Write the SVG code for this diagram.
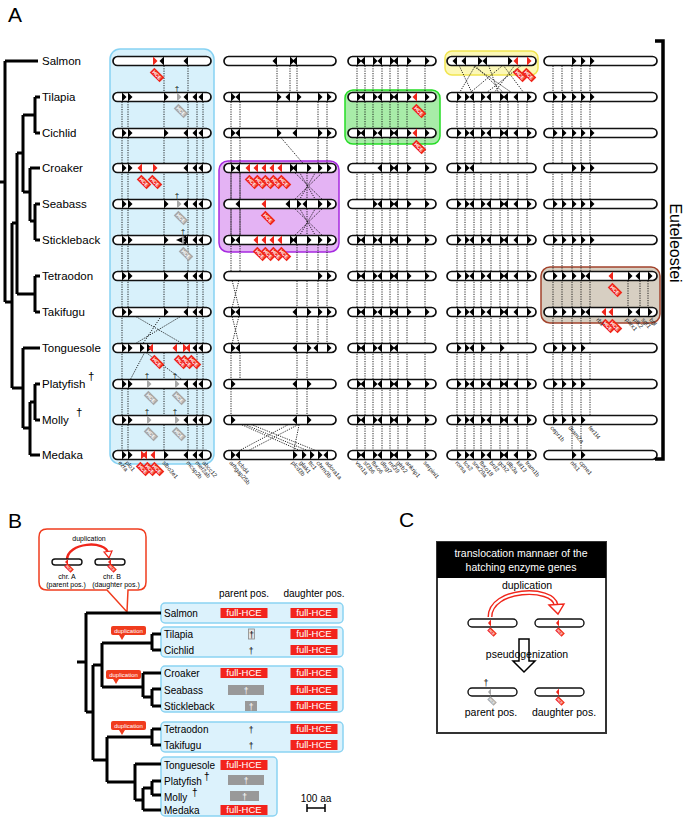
<svg xmlns="http://www.w3.org/2000/svg" width="685" height="819" viewBox="0 0 685 819">
<style>
.bar{fill:#fff;stroke:#111;stroke-width:1.7}
.sbar{fill:#fff;stroke:#111;stroke-width:1.4}
.dot{fill:none;stroke:#111;stroke-width:0.9;stroke-dasharray:1.2 1.2}
.tr{fill:none;stroke:#000;stroke-width:3}
.f{font-family:"Liberation Sans",Arial,sans-serif}
.sp{font-family:"Liberation Sans",Arial,sans-serif;font-size:11.5px;fill:#000}
.spb{font-family:"Liberation Sans",Arial,sans-serif;font-size:10px;fill:#000}
.gl{font-family:"Liberation Sans",Arial,sans-serif;font-size:6px;fill:#222}
.big{font-family:"Liberation Sans",Arial,sans-serif;font-size:21px;fill:#000}
.dg{font-family:"Liberation Sans",Arial,sans-serif;font-size:8px;text-anchor:middle;fill:#000}
.rd{fill:#f0261b}
.gy{fill:#a8a8a8}
.lbl{font-family:"Liberation Sans",Arial,sans-serif;font-size:10.5px;fill:#000;text-anchor:middle}
</style>
<defs>
<path id="r" d="M0,-4.5L4.5,0L0,4.5Z"/>
<path id="l" d="M0,-4.5L-4.5,0L0,4.5Z"/>
<path id="rs" d="M0,-3.5L3,0L0,3.5Z"/>
<path id="ls" d="M0,-3.5L-3,0L0,3.5Z"/>
<g id="tg"><g transform="translate(4,14) rotate(45)"><rect x="-7" y="-3.3" width="14" height="6.6"/><text x="0" y="1.8" font-size="5" fill="#fff" text-anchor="middle" font-family="Liberation Sans, Arial, sans-serif" font-weight="bold">HCE</text></g></g>
<g id="tgs"><g transform="translate(3,9) rotate(45)"><rect x="-4.5" y="-2.3" width="9" height="4.6"/><text x="0" y="1.2" font-size="3.3" fill="#fff" text-anchor="middle" font-family="Liberation Sans, Arial, sans-serif" font-weight="bold">HCE</text></g></g>
<rect id="b1" class="bar" x="113" y="-4.5" width="98" height="9" rx="4.5"/>
<rect id="b2" class="bar" x="224" y="-4.5" width="112" height="9" rx="4.5"/>
<rect id="b3" class="bar" x="348" y="-4.5" width="88" height="9" rx="4.5"/>
<rect id="b4" class="bar" x="447" y="-4.5" width="89" height="9" rx="4.5"/>
<rect id="b5" class="bar" x="544" y="-4.5" width="113" height="9" rx="4.5"/>
<g id="s1"><use href="#r" x="122"/><use href="#r" x="128"/><use href="#r" x="164"/><use href="#l" x="188"/><use href="#l" x="197"/><use href="#l" x="203"/></g>
<g id="p3"><use href="#r" x="357"/><use href="#l" x="365"/><use href="#r" x="373"/><use href="#l" x="382"/><use href="#r" x="390"/><use href="#l" x="398"/><use href="#r" x="407"/><use href="#r" x="425"/></g>
<g id="q4"><use href="#r" x="457"/><use href="#r" x="465"/><use href="#l" x="474"/><use href="#r" x="481"/><use href="#l" x="491"/><use href="#r" x="500"/><use href="#l" x="508"/><use href="#l" x="518"/><use href="#r" x="527"/></g>
<g id="f5"><use href="#r" x="553"/><use href="#r" x="562"/><use href="#r" x="572"/><use href="#r" x="581"/><use href="#r" x="590"/></g>
<g id="fh"><rect x="-23.5" y="-5" width="47" height="10" fill="#f2231c"/><text x="0" y="3.4" font-size="9.5" fill="#fff" text-anchor="middle" font-family="Liberation Sans, Arial, sans-serif">full-HCE</text></g>
</defs>
<rect width="685" height="819" fill="#fff"/>

<!-- ============ PANEL A ============ -->
<text class="big" x="8" y="22">A</text>

<g id="treeA">
<path class="tr" d="M0,182H5M5,61V302M5,61H38M5,302H12M12,223V388M12,223H17M17,153V294M17,153H23M23,115V192M23,115H35M35,97V133M35,97H40M35,133H40M23,192H30M30,168V221M30,168H40M30,221H35M35,204V240M35,204H40M35,240H40M17,294H35M35,276V312M35,276H40M35,312H40M12,388H23M23,348V428M23,348H40M23,428H30M30,402V455M30,455H40M30,402H35M35,384V420M35,384H40M35,420H40"/>
</g>
<g id="speciesA">
<text class="sp" x="42" y="65">Salmon</text>
<text class="sp" x="42" y="101">Tilapia</text>
<text class="sp" x="42" y="137">Cichlid</text>
<text class="sp" x="42" y="172">Croaker</text>
<text class="sp" x="42" y="208">Seabass</text>
<text class="sp" x="42" y="244">Stickleback</text>
<text class="sp" x="42" y="280">Tetraodon</text>
<text class="sp" x="42" y="316">Takifugu</text>
<text class="sp" x="42" y="352">Tonguesole</text>
<text class="sp" x="42" y="388">Platyfish</text>
<text class="sp" x="88" y="380" font-size="10">†</text>
<text class="sp" x="42" y="424">Molly</text>
<text class="sp" x="76" y="416" font-size="10">†</text>
<text class="sp" x="42" y="459">Medaka</text>
</g>

<g id="highlights">
<rect x="110" y="49" width="104" height="415" rx="10" fill="#d8f1fb" stroke="#86d2f3" stroke-width="1.5"/>
<rect x="219" y="161" width="120" height="91" rx="9" fill="#e4b3f4" stroke="#a62ae0" stroke-width="1.5"/>
<rect x="345" y="90" width="95" height="54" rx="8" fill="#a8eca8" stroke="#25dd25" stroke-width="1.5"/>
<rect x="445" y="51" width="93" height="24" rx="7" fill="#fcf8b7" stroke="#f1e550" stroke-width="1.5"/>
<rect x="541" y="267" width="119" height="56" rx="9" fill="#d7cfc2" stroke="#a2432c" stroke-width="1.5"/>
</g>

<g id="connectors">
<path class="dot" d="M164,61V312M188,61V312M122,97V455M128,97V312M128,384V455M197,97V455M203,97V455M164,348V455M188,384V455M128,312L190,348M188,312L128,348M164,312L140,348M140,348L188,384M147,348L128,384"/>
<path class="dot" d="M277,61V133M290,61V97M297,61V133M231,97V276M240,97V276M318,97V168M327,97V168M277,133L307,168M290,168L327,204M327,168L290,204M297,168L318,204M318,168L297,204M307,168V204M290,204L327,240M327,204L290,240M297,204L318,240M318,204L297,240M307,204V240M231,168V240M240,168V240M297,240V420M307,240V420M318,240V348M327,240V348M231,276L240,312M240,276L231,312M231,312L240,348M240,312L231,348M231,348V420M240,348V384M231,420L310,455M240,420L327,455M297,420L231,455M307,420L240,455M300,420L293,455M234,420L318,455"/>
<path class="dot" d="M357,61V455M365,61V455M373,61V455M382,61V455M390,61V455M398,61V455M407,61V455M425,61V455"/>
<path class="dot" d="M457,97V455M465,97V455M474,97V455M481,97V455M491,97V455M500,97V455M508,97V455M518,97V455M527,97V455M457,61L474,97M466,61L518,97M478,61L457,97M487,61L500,97M508,61L465,97M518,61L491,97M527,61L481,97M500,61L527,97M470,61L508,97"/>
<path class="dot" d="M553,61V420M562,61V420M572,61V455M581,61V455M590,61V420M628,276V312M640,276V312M648,276V312"/>
</g>

<g id="bars">
<use href="#b1" y="61"/><use href="#b1" y="97"/><use href="#b1" y="133"/><use href="#b1" y="168"/><use href="#b1" y="204"/><use href="#b1" y="240"/><use href="#b1" y="276"/><use href="#b1" y="312"/><use href="#b1" y="348"/><use href="#b1" y="384"/><use href="#b1" y="420"/><use href="#b1" y="455"/>
<use href="#b2" y="61"/><use href="#b2" y="97"/><use href="#b2" y="133"/><use href="#b2" y="168"/><use href="#b2" y="204"/><use href="#b2" y="240"/><use href="#b2" y="276"/><use href="#b2" y="312"/><use href="#b2" y="348"/><use href="#b2" y="384"/><use href="#b2" y="420"/><use href="#b2" y="455"/>
<use href="#b3" y="61"/><use href="#b3" y="97"/><use href="#b3" y="133"/><use href="#b3" y="168"/><use href="#b3" y="204"/><use href="#b3" y="240"/><use href="#b3" y="276"/><use href="#b3" y="312"/><use href="#b3" y="348"/><use href="#b3" y="384"/><use href="#b3" y="420"/><use href="#b3" y="455"/>
<use href="#b4" y="61"/><use href="#b4" y="97"/><use href="#b4" y="133"/><use href="#b4" y="168"/><use href="#b4" y="204"/><use href="#b4" y="240"/><use href="#b4" y="276"/><use href="#b4" y="312"/><use href="#b4" y="348"/><use href="#b4" y="384"/><use href="#b4" y="420"/><use href="#b4" y="455"/>
<use href="#b5" y="61"/><use href="#b5" y="97"/><use href="#b5" y="133"/><use href="#b5" y="168"/><use href="#b5" y="204"/><use href="#b5" y="240"/><use href="#b5" y="276"/><use href="#b5" y="312"/><use href="#b5" y="348"/><use href="#b5" y="384"/><use href="#b5" y="420"/><use href="#b5" y="455"/>
</g>

<!-- block 1 genes -->
<g id="block1">
<g transform="translate(0,61)"><use href="#r" x="153" class="rd"/><use href="#l" x="164"/><use href="#l" x="188"/><use href="#tg" x="153" class="rd"/></g>
<g transform="translate(0,97)"><use href="#r" x="122"/><use href="#r" x="128"/><use href="#r" x="164"/><use href="#r" x="177" class="gy"/><use href="#l" x="188"/><use href="#l" x="197"/><use href="#l" x="203"/><use href="#tg" x="177" class="gy"/><text class="dg" x="177" y="-6">†</text></g>
<use href="#s1" y="133"/>
<g transform="translate(0,168)"><use href="#r" x="122"/><use href="#r" x="128"/><use href="#l" x="142" class="rd"/><use href="#r" x="153" class="rd"/><use href="#l" x="188"/><use href="#l" x="197"/><use href="#l" x="203"/><use href="#tg" x="140" class="rd"/><use href="#tg" x="151" class="rd"/></g>
<g transform="translate(0,204)"><use href="#r" x="122"/><use href="#r" x="128"/><use href="#r" x="164"/><use href="#r" x="177" class="gy"/><use href="#l" x="188"/><use href="#l" x="197"/><use href="#l" x="203"/><use href="#tg" x="177" class="gy"/><text class="dg" x="177" y="-6">†</text></g>
<g transform="translate(0,240)"><use href="#r" x="122"/><use href="#r" x="128"/><use href="#r" x="164"/><path d="M186,-4.5L176,0L186,4.5Z"/><use href="#r" x="182" class="gy"/><use href="#l" x="188"/><use href="#l" x="197"/><use href="#l" x="203"/><use href="#tg" x="182" class="gy"/><text class="dg" x="183" y="-6">†</text></g>
<use href="#s1" y="276"/>
<use href="#s1" y="312"/>
<g transform="translate(0,348)"><use href="#r" x="122"/><use href="#r" x="128"/><use href="#r" x="140"/><use href="#r" x="147"/><use href="#l" x="153" class="rd"/><use href="#l" x="177" class="rd"/><use href="#r" x="183" class="rd"/><use href="#l" x="190" class="rd"/><use href="#l" x="197"/><use href="#l" x="203"/><use href="#tg" x="153" class="rd"/><use href="#tg" x="177" class="rd"/><use href="#tg" x="183" class="rd"/><use href="#tg" x="190" class="rd"/></g>
<g transform="translate(0,384)"><use href="#r" x="122"/><use href="#r" x="128"/><use href="#r" x="147" class="gy"/><use href="#r" x="175" class="gy"/><use href="#l" x="188"/><use href="#l" x="197"/><use href="#l" x="203"/><use href="#tg" x="147" class="gy"/><use href="#tg" x="175" class="gy"/><text class="dg" x="147" y="-6">†</text><text class="dg" x="175" y="-6">†</text></g>
<g transform="translate(0,420)"><use href="#r" x="122"/><use href="#r" x="128"/><use href="#r" x="147" class="gy"/><use href="#r" x="175" class="gy"/><use href="#l" x="188"/><use href="#l" x="197"/><use href="#l" x="203"/><use href="#tg" x="147" class="gy"/><use href="#tg" x="175" class="gy"/><text class="dg" x="147" y="-6">†</text><text class="dg" x="175" y="-6">†</text></g>
<g transform="translate(0,455)"><use href="#r" x="122"/><use href="#r" x="128"/><use href="#r" x="141" class="rd"/><use href="#l" x="147" class="rd"/><use href="#l" x="155" class="rd"/><use href="#r" x="164"/><use href="#l" x="188"/><use href="#l" x="197"/><use href="#l" x="203"/><use href="#tg" x="139" class="rd"/><use href="#tg" x="146" class="rd"/><use href="#tg" x="153" class="rd"/></g>
</g>

<!-- block 2 genes -->
<g id="block2">
<g transform="translate(0,61)"><use href="#l" x="277"/><use href="#r" x="290"/><use href="#l" x="297"/></g>
<g transform="translate(0,97)"><use href="#r" x="231"/><use href="#l" x="240"/><use href="#r" x="277"/><use href="#l" x="290"/><use href="#r" x="297"/><use href="#r" x="318"/><use href="#r" x="327"/></g>
<g transform="translate(0,133)"><use href="#r" x="231"/><use href="#l" x="240"/><use href="#r" x="277"/><use href="#l" x="297"/><use href="#r" x="318"/><use href="#r" x="327"/></g>
<g transform="translate(0,168)"><use href="#r" x="231"/><use href="#l" x="240"/><use href="#l" x="250" class="rd"/><use href="#l" x="258" class="rd"/><use href="#l" x="266" class="rd"/><use href="#l" x="274" class="rd"/><use href="#l" x="282" class="rd"/><use href="#r" x="290"/><use href="#l" x="297"/><use href="#r" x="307"/><use href="#r" x="318"/><use href="#r" x="327"/><use href="#tg" x="248" class="rd"/><use href="#tg" x="256" class="rd"/><use href="#tg" x="264" class="rd"/><use href="#tg" x="272" class="rd"/><use href="#tg" x="280" class="rd"/></g>
<g transform="translate(0,204)"><use href="#l" x="240"/><use href="#l" x="266" class="rd"/><use href="#l" x="290"/><use href="#r" x="297"/><use href="#l" x="307"/><use href="#r" x="318"/><use href="#r" x="327"/><use href="#tg" x="264" class="rd"/></g>
<g transform="translate(0,240)"><use href="#r" x="231"/><use href="#l" x="240"/><use href="#l" x="258" class="rd"/><use href="#l" x="266" class="rd"/><use href="#l" x="274" class="rd"/><use href="#l" x="282" class="rd"/><use href="#r" x="290"/><use href="#l" x="297"/><use href="#r" x="307"/><use href="#r" x="318"/><use href="#r" x="327"/><use href="#tg" x="256" class="rd"/><use href="#tg" x="264" class="rd"/><use href="#tg" x="272" class="rd"/><use href="#tg" x="280" class="rd"/></g>
<g transform="translate(0,276)"><use href="#r" x="318"/><use href="#r" x="327"/></g>
<g transform="translate(0,312)"><use href="#r" x="231"/><use href="#l" x="240"/><use href="#l" x="297"/><use href="#r" x="307"/><use href="#r" x="318"/><use href="#r" x="327"/></g>
<g transform="translate(0,348)"><use href="#r" x="231"/><use href="#l" x="240"/><use href="#l" x="297"/><use href="#r" x="307"/><use href="#l" x="318"/><use href="#r" x="327"/></g>
<g transform="translate(0,384)"><use href="#r" x="231"/><use href="#l" x="297"/><use href="#r" x="307"/></g>
<g transform="translate(0,420)"><use href="#r" x="231"/><use href="#l" x="297"/><use href="#r" x="307"/></g>
<g transform="translate(0,455)"><use href="#r" x="231"/><use href="#l" x="240"/><use href="#r" x="293"/><use href="#r" x="302"/><use href="#r" x="310"/><use href="#r" x="318"/><use href="#l" x="328"/></g>
</g>

<!-- block 3 genes -->
<g id="block3">
<use href="#p3" y="61"/>
<use href="#p3" y="97"/><g transform="translate(0,97)"><use href="#l" x="417" class="rd"/><use href="#tg" x="415" class="rd"/></g>
<use href="#p3" y="133"/><g transform="translate(0,133)"><use href="#l" x="417" class="rd"/><use href="#tg" x="415" class="rd"/></g>
<g transform="translate(0,168)"><use href="#l" x="382"/><use href="#r" x="390"/><use href="#l" x="398"/><use href="#r" x="407"/><use href="#r" x="425"/></g>
<g transform="translate(0,204)"><use href="#r" x="373"/><use href="#l" x="382"/><use href="#r" x="390"/><use href="#l" x="398"/><use href="#r" x="407"/><use href="#r" x="425"/></g>
<use href="#p3" y="240"/><use href="#p3" y="276"/><use href="#p3" y="312"/>
<g transform="translate(0,348)"><use href="#r" x="357"/><use href="#l" x="365"/><use href="#r" x="373"/><use href="#l" x="382"/><use href="#r" x="390"/><use href="#l" x="398"/></g>
<use href="#p3" y="384"/><use href="#p3" y="420"/><use href="#p3" y="455"/>
</g>

<!-- block 4 genes -->
<g id="block4">
<g transform="translate(0,61)"><use href="#l" x="457"/><use href="#l" x="466"/><use href="#r" x="478"/><use href="#l" x="487"/><use href="#r" x="508"/><use href="#l" x="518" class="rd"/><use href="#r" x="527" class="rd"/><use href="#tg" x="516" class="rd"/><use href="#tg" x="525" class="rd"/></g>
<use href="#q4" y="97"/><use href="#q4" y="133"/>
<g transform="translate(0,168)"><use href="#r" x="457"/><use href="#r" x="465"/><use href="#l" x="474"/></g>
<use href="#q4" y="204"/><use href="#q4" y="240"/><use href="#q4" y="276"/><use href="#q4" y="312"/>
<g transform="translate(0,348)"><use href="#r" x="457"/><use href="#r" x="465"/><use href="#l" x="474"/><use href="#r" x="481"/><use href="#r" x="500"/></g>
<use href="#q4" y="384"/><use href="#q4" y="420"/><use href="#q4" y="455"/>
</g>

<!-- block 5 genes -->
<g id="block5">
<g transform="translate(0,61)"><use href="#r" x="572"/><use href="#r" x="581"/><use href="#r" x="590"/></g>
<use href="#f5" y="97"/><use href="#f5" y="133"/>
<g transform="translate(0,168)"><use href="#r" x="572"/><use href="#r" x="581"/><use href="#r" x="590"/></g>
<use href="#f5" y="204"/><use href="#f5" y="240"/>
<g transform="translate(0,276)"><use href="#r" x="553"/><use href="#r" x="562"/><use href="#r" x="572"/><use href="#r" x="581"/><use href="#l" x="590"/><use href="#l" x="613" class="rd"/><use href="#r" x="628"/><use href="#l" x="640"/><use href="#r" x="648"/><use href="#tg" x="611" class="rd"/></g>
<g transform="translate(0,312)"><use href="#r" x="553"/><use href="#r" x="562"/><use href="#r" x="572"/><use href="#r" x="581"/><use href="#l" x="590"/><use href="#l" x="606" class="rd"/><use href="#l" x="613" class="rd"/><use href="#r" x="628"/><use href="#l" x="640"/><use href="#r" x="648"/><use href="#tg" x="604" class="rd"/><use href="#tg" x="611" class="rd"/></g>
<g transform="translate(0,348)"><use href="#r" x="553"/><use href="#r" x="562"/><use href="#r" x="572"/><use href="#r" x="581"/></g>
<g transform="translate(0,384)"><use href="#r" x="553"/><use href="#r" x="562"/><use href="#r" x="572"/><use href="#r" x="581"/></g>
<g transform="translate(0,420)"><use href="#r" x="553"/><use href="#r" x="562"/><use href="#r" x="572"/><use href="#r" x="581"/></g>
<g transform="translate(0,455)"><use href="#r" x="572"/><use href="#r" x="581"/></g>
</g>

<g id="geneLabels">
<text class="gl" transform="translate(118,463) rotate(50)">ezfa</text>
<text class="gl" transform="translate(125,463) rotate(50)">plo1</text>
<text class="gl" transform="translate(162,463) rotate(50)">slbo3e1</text>
<text class="gl" transform="translate(186,463) rotate(50)">mcsp2b</text>
<text class="gl" transform="translate(195,463) rotate(50)">mef2ab</text>
<text class="gl" transform="translate(202,463) rotate(50)">abcc12</text>
<text class="gl" transform="translate(229,463) rotate(50)">arhgap25b</text>
<text class="gl" transform="translate(237,463) rotate(50)">tcbd4</text>
<text class="gl" transform="translate(291,463) rotate(50)">plcd3b</text>
<text class="gl" transform="translate(299,463) rotate(50)">glak1</text>
<text class="gl" transform="translate(308,463) rotate(50)">ttc1</text>
<text class="gl" transform="translate(316,463) rotate(50)">chrm3b</text>
<text class="gl" transform="translate(325,463) rotate(50)">adora1a</text>
<text class="gl" transform="translate(355,463) rotate(50)">vsn1a</text>
<text class="gl" transform="translate(363,463) rotate(50)">sf3b6</text>
<text class="gl" transform="translate(371,463) rotate(50)">fbxo6</text>
<text class="gl" transform="translate(380,463) rotate(50)">dlsg7</text>
<text class="gl" transform="translate(388,463) rotate(50)">rnf39</text>
<text class="gl" transform="translate(396,463) rotate(50)">gfrb2</text>
<text class="gl" transform="translate(405,463) rotate(50)">ankrip1</text>
<text class="gl" transform="translate(423,463) rotate(50)">serpini1</text>
<text class="gl" transform="translate(455,463) rotate(50)">rorsa</text>
<text class="gl" transform="translate(463,463) rotate(50)">tcs2</text>
<text class="gl" transform="translate(472,463) rotate(50)">snx29a</text>
<text class="gl" transform="translate(479,463) rotate(50)">fbxo18</text>
<text class="gl" transform="translate(489,463) rotate(50)">brd2</text>
<text class="gl" transform="translate(498,463) rotate(50)">gch2</text>
<text class="gl" transform="translate(506,463) rotate(50)">dlb3a</text>
<text class="gl" transform="translate(516,463) rotate(50)">kif13</text>
<text class="gl" transform="translate(525,463) rotate(50)">tram1b</text>
<text class="gl" transform="translate(550,428) rotate(50)">cepr1b</text>
<text class="gl" transform="translate(568,428) rotate(50)">dram2a</text>
<text class="gl" transform="translate(588,428) rotate(50)">fer1l4</text>
<text class="gl" transform="translate(570,463) rotate(50)">nfs1</text>
<text class="gl" transform="translate(579,463) rotate(50)">cpne1</text>
<text class="gl" transform="translate(596,320) rotate(50)">rb1</text>
<text class="gl" transform="translate(625,320) rotate(50)">parx1</text>
<text class="gl" transform="translate(633,320) rotate(50)">ptk2</text>
<text class="gl" transform="translate(641,320) rotate(50)">sgf1</text>
<text class="gl" transform="translate(649,320) rotate(50)">bgl</text>
</g>

<g id="euteleostei">
<path d="M655,41H663V459H655" fill="none" stroke="#000" stroke-width="3.5"/>
<text class="f" font-size="16" text-anchor="middle" transform="translate(670,243) rotate(90)">Euteleostei</text>
</g>

<!-- ============ PANEL B ============ -->
<text class="big" x="8" y="528">B</text>

<g id="callout">
<path d="M47,529H138Q146,529 146,537V582Q146,590 138,590H128L127,612L107,590H47Q39,590 39,582V537Q39,529 47,529Z" fill="#fff" stroke="#f03c1e" stroke-width="1.5"/>
<text class="f" x="89" y="541" font-size="7" text-anchor="middle">duplication</text>
<path d="M67,560C67,542 106,540 108,553" fill="none" stroke="#f0261b" stroke-width="2.5"/>
<path d="M104,552L112,551L109,558Z" fill="#fff" stroke="#f0261b" stroke-width="1.2"/>
<rect class="sbar" x="52" y="559" width="30" height="6" rx="3"/>
<rect class="sbar" x="95" y="559" width="30" height="6" rx="3"/>
<path d="M68,559L65,562L68,565Z" class="rd"/>
<path d="M111,559L108,562L111,565Z" class="rd"/>
<use href="#tgs" x="66" y="559" class="rd"/>
<use href="#tgs" x="109" y="559" class="rd"/>
<text class="f" x="67" y="579" font-size="7" text-anchor="middle">chr. A</text>
<text class="f" x="66" y="587" font-size="7" text-anchor="middle">(parent pos.)</text>
<text class="f" x="112" y="579" font-size="7" text-anchor="middle">chr. B</text>
<text class="f" x="116" y="587" font-size="7" text-anchor="middle">(daughter pos.)</text>
</g>

<g id="boxesB">
<rect x="161" y="603" width="182" height="20" rx="4" fill="#dcf2fc" stroke="#8ad3f2" stroke-width="1.5"/>
<rect x="161" y="627" width="182" height="30" rx="4" fill="#dcf2fc" stroke="#8ad3f2" stroke-width="1.5"/>
<rect x="161" y="666" width="182" height="46" rx="4" fill="#dcf2fc" stroke="#8ad3f2" stroke-width="1.5"/>
<rect x="161" y="722" width="182" height="30" rx="4" fill="#dcf2fc" stroke="#8ad3f2" stroke-width="1.5"/>
<rect x="161" y="757" width="116" height="59" rx="4" fill="#dcf2fc" stroke="#8ad3f2" stroke-width="1.5"/>
</g>

<g id="treeB">
<path class="tr" d="M77,662H86M86,613V712M86,613H161M86,712H93M93,665V760M93,665H102M102,643V687M102,643H152M152,634V650M152,634H161M152,650H161M102,687H143M143,673V697M143,673H161M143,697H152M152,689V706M152,689H161M152,706H161M93,760H107M107,737V782M107,737H152M152,729V745M152,729H161M152,745H161M107,782H135M135,764V800M135,764H161M135,800H143M143,788V810M143,810H161M143,788H152M152,781V795M152,781H161M152,795H161"/>
</g>

<g id="dupTags">
<rect x="111" y="626" width="35" height="9" rx="2" fill="#f03c1e"/><path d="M119,635H125L122,640Z" fill="#f03c1e"/>
<text class="f" x="128.5" y="632.8" font-size="6" fill="#fff" text-anchor="middle">duplication</text>
<rect x="106" y="670" width="35" height="9" rx="2" fill="#f03c1e"/><path d="M113,679H119L116,684Z" fill="#f03c1e"/>
<text class="f" x="123.5" y="676.8" font-size="6" fill="#fff" text-anchor="middle">duplication</text>
<rect x="111" y="721" width="35" height="9" rx="2" fill="#f03c1e"/><path d="M119,730H125L122,735Z" fill="#f03c1e"/>
<text class="f" x="128.5" y="727.8" font-size="6" fill="#fff" text-anchor="middle">duplication</text>
</g>

<g id="speciesB">
<text class="spb" x="164" y="617">Salmon</text>
<text class="spb" x="164" y="638">Tilapia</text>
<text class="spb" x="164" y="654">Cichlid</text>
<text class="spb" x="164" y="677">Croaker</text>
<text class="spb" x="164" y="694">Seabass</text>
<text class="spb" x="164" y="710">Stickleback</text>
<text class="spb" x="164" y="733">Tetraodon</text>
<text class="spb" x="164" y="749">Takifugu</text>
<text class="spb" x="164" y="769">Tonguesole</text>
<text class="spb" x="164" y="785">Platyfish</text>
<text class="spb" x="204" y="779.5" font-size="7">†</text>
<text class="spb" x="164" y="801">Molly</text>
<text class="spb" x="192" y="796" font-size="7">†</text>
<text class="spb" x="164" y="814">Medaka</text>
</g>

<g id="hceB">
<text class="f" x="244" y="597" font-size="10" text-anchor="middle">parent pos.</text>
<text class="f" x="314" y="597" font-size="10" text-anchor="middle">daughter pos.</text>
<use href="#fh" x="244" y="613"/><use href="#fh" x="314" y="613"/>
<rect x="248.5" y="629" width="6" height="10" fill="#e4e4e4" stroke="#888" stroke-width="0.8"/><text class="f" x="251.5" y="637.5" font-size="8.5" text-anchor="middle">†</text>
<use href="#fh" x="314" y="634"/>
<text class="f" x="251" y="654" font-size="8.5" text-anchor="middle">†</text>
<use href="#fh" x="314" y="650"/>
<use href="#fh" x="244" y="673"/><use href="#fh" x="314" y="673"/>
<rect x="228" y="685" width="36" height="10" fill="#999"/><text class="f" x="246" y="693.5" font-size="8.5" fill="#fff" text-anchor="middle">†</text>
<use href="#fh" x="314" y="690"/>
<rect x="245" y="701" width="12" height="10" fill="#999"/><text class="f" x="251" y="709.5" font-size="8.5" fill="#fff" text-anchor="middle">†</text>
<use href="#fh" x="314" y="706"/>
<text class="f" x="251" y="733" font-size="8.5" text-anchor="middle">†</text>
<use href="#fh" x="314" y="729"/>
<text class="f" x="251" y="749" font-size="8.5" text-anchor="middle">†</text>
<use href="#fh" x="314" y="745"/>
<use href="#fh" x="244" y="765"/>
<rect x="228" y="775" width="36" height="10" fill="#999"/><text class="f" x="246" y="783.5" font-size="8.5" fill="#fff" text-anchor="middle">†</text>
<rect x="230" y="791" width="29" height="10" fill="#999"/><text class="f" x="244.5" y="799.5" font-size="8.5" fill="#fff" text-anchor="middle">†</text>
<use href="#fh" x="244" y="810"/>
</g>

<g id="scaleBar">
<text class="f" x="316" y="802" font-size="10" text-anchor="middle">100 aa</text>
<path d="M307,808H325M307,804V812M325,804V812" fill="none" stroke="#000" stroke-width="1.5"/>
</g>

<!-- ============ PANEL C ============ -->
<text class="big" x="399" y="527">C</text>
<g id="panelC">
<rect x="437" y="542" width="169" height="191" fill="#fff" stroke="#333" stroke-width="2"/>
<rect x="437" y="542" width="169" height="36" fill="#000"/>
<text class="lbl" x="521" y="557" style="fill:#fff">translocation mannaer of the</text>
<text class="lbl" x="521" y="571" style="fill:#fff">hatching enzyme genes</text>
<text class="lbl" x="527" y="589">duplication</text>
<path d="M490,617C490,588 553,586 556,605" fill="none" stroke="#f0261b" stroke-width="5"/>
<path d="M490,617C490,588 553,586 556,605" fill="none" stroke="#fff" stroke-width="2.2"/>
<path d="M549,605L564,604L558,614Z" fill="#fff" stroke="#f0261b" stroke-width="1.4"/>
<rect class="sbar" x="468" y="619" width="49" height="8" rx="4"/>
<rect class="sbar" x="535" y="619" width="49" height="8" rx="4"/>
<use href="#ls" x="491" y="623" class="rd"/>
<use href="#ls" x="559" y="623" class="rd"/>
<use href="#tgs" x="489" y="623" class="rd"/>
<use href="#tgs" x="557" y="623" class="rd"/>
<path d="M519,639H529V661H535L524,672L513,661H519Z" fill="#fff" stroke="#000" stroke-width="1.5"/>
<text class="lbl" x="527" y="658">pseudogenization</text>
<rect class="sbar" x="468" y="688" width="49" height="8" rx="4"/>
<rect class="sbar" x="535" y="688" width="49" height="8" rx="4"/>
<use href="#ls" x="491" y="692" class="gy"/>
<use href="#ls" x="559" y="692" class="rd"/>
<use href="#tgs" x="489" y="692" class="gy"/>
<use href="#tgs" x="557" y="692" class="rd"/>
<text class="f" x="486" y="686" font-size="9" text-anchor="middle">†</text>
<text class="lbl" x="491" y="716">parent pos.</text>
<text class="lbl" x="564" y="716">daughter pos.</text>
</g>
</svg>
